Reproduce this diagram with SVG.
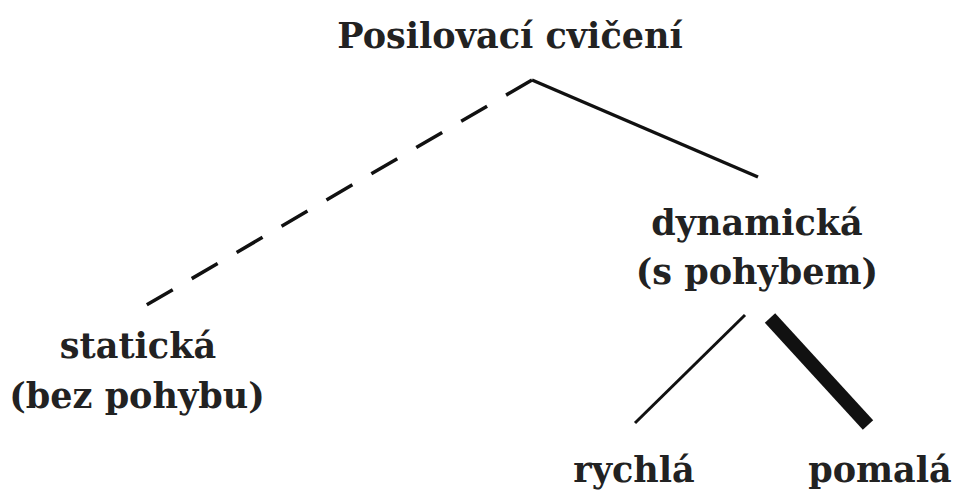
<svg xmlns="http://www.w3.org/2000/svg" width="959" height="492" viewBox="0 0 959 492">
<style>
text{font-family:"DejaVu Serif","Liberation Serif",serif;font-size:35px;font-weight:bold;fill:#222;text-anchor:middle}
.ln{stroke:#111;fill:none;stroke-linecap:butt}
</style>
<rect width="959" height="492" fill="#fff"/>
<g id="connectors">
<line class="ln" x1="532" y1="80" x2="138" y2="310" stroke-width="3.5" stroke-dasharray="30 22"/>
<line class="ln" x1="532" y1="80" x2="758" y2="177" stroke-width="3.5"/>
<line class="ln" x1="745" y1="315" x2="635" y2="423" stroke-width="3"/>
<line class="ln" x1="770" y1="318" x2="868" y2="425" stroke-width="14"/>
</g>
<g id="root"><text x="510" y="48">Posilovací cvičení</text></g>
<g id="staticka"><text x="138" y="358">statická</text><text x="137" y="408">(bez pohybu)</text></g>
<g id="dynamicka"><text x="757" y="235">dynamická</text><text x="757" y="284">(s pohybem)</text></g>
<g id="rychla"><text x="634" y="482">rychlá</text></g>
<g id="pomala"><text x="880" y="482">pomalá</text></g>
</svg>
